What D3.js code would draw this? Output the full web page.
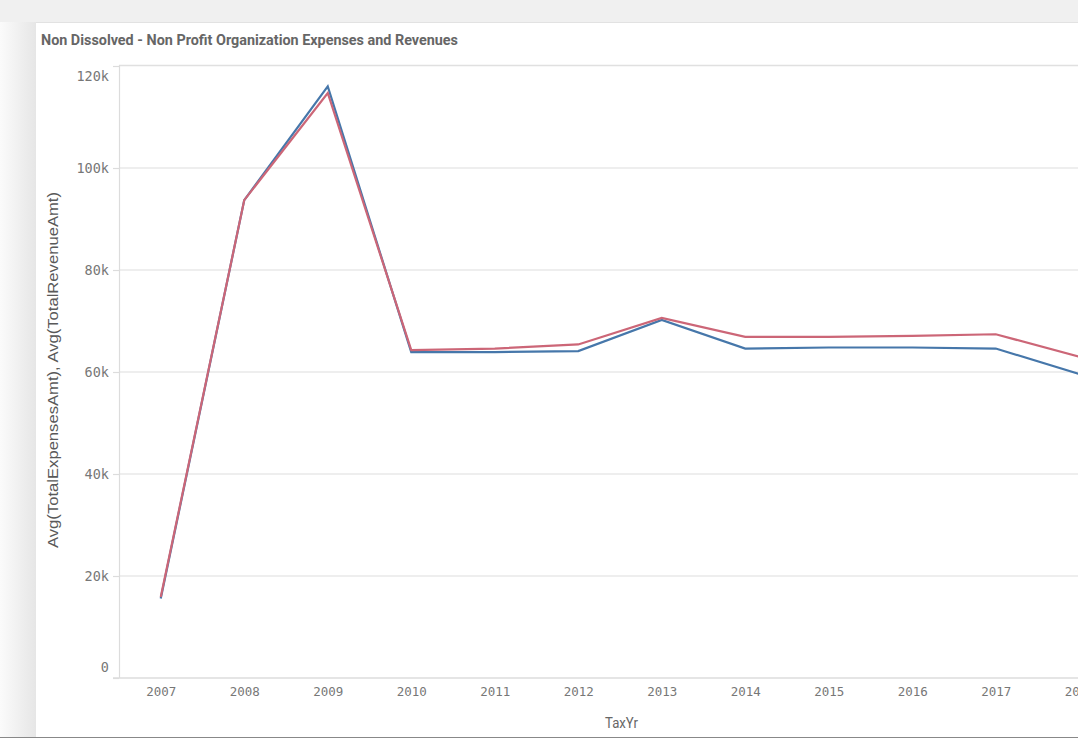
<!DOCTYPE html>
<html><head><meta charset="utf-8">
<script src="https://cdn.jsdelivr.net/npm/d3@7"></script>
<style>
html,body{margin:0;padding:0;background:#f2f2f2;overflow:hidden;}
svg{display:block;}
</style></head>
<body>
<svg id="chart" width="1078" height="738"></svg>
<script>
const years = [2007,2008,2009,2010,2011,2012,2013,2014,2015,2016,2017,2018];
const expenses = [15.6,93.7,116.0,63.9,63.9,64.1,70.2,64.6,64.8,64.8,64.6,59.6];
const revenues = [15.9,93.7,114.7,64.3,64.6,65.4,70.6,66.9,66.9,67.1,67.4,63.0];
const yTicks = [0,20,40,60,80,100,120];
const seriesNames = ["Avg(TotalExpensesAmt)","Avg(TotalRevenueAmt)"];
const seriesColors = ["#4677aa","#cc6677"];

const svg = d3.select("#chart");
const defs = svg.append("defs");
const g1 = defs.append("linearGradient").attr("id","lg").attr("x1","0").attr("x2","1");
g1.append("stop").attr("offset","0").attr("stop-color","#fbfbfb");
g1.append("stop").attr("offset","1").attr("stop-color","#e6e6e6");

// background
svg.append("rect").attr("x",0).attr("y",0).attr("width",1078).attr("height",738).attr("fill","#f0f0f0");
svg.append("rect").attr("x",0).attr("y",22).attr("width",36).attr("height",716).attr("fill","url(#lg)");
// panel
svg.append("rect").attr("x",35).attr("y",22).attr("width",1100).attr("height",715).attr("fill","#ffffff");
svg.append("line").attr("x1",35).attr("x2",1078).attr("y1",22.5).attr("y2",22.5).attr("stroke","#e2e2e2");
svg.append("line").attr("x1",35.5).attr("x2",35.5).attr("y1",22).attr("y2",738).attr("stroke","#e6e6e6");
svg.append("line").attr("x1",0).attr("x2",1078).attr("y1",737.5).attr("y2",737.5).attr("stroke","#888");

svg.append("text").attr("x",41).attr("y",45)
  .attr("font-family","'Liberation Sans Narrow','Arial Narrow','Roboto',sans-serif")
  .attr("font-weight","bold").attr("font-size",15.5).attr("fill","#666")
  .attr("textLength",417).attr("lengthAdjust","spacingAndGlyphs")
  .text("Non Dissolved - Non Profit Organization Expenses and Revenues");

const pLeft = 119, pTop = 66, pBottom = 678;
const step = 83.5;
const x = d3.scalePoint().domain(years).range([pLeft + step/2, pLeft + step/2 + step*(years.length-1)]);
const y = d3.scaleLinear().domain([0,120]).range([pBottom, pTop]);

// plot top border
svg.append("line").attr("x1",pLeft).attr("x2",1078).attr("y1",pTop-0.5).attr("y2",pTop-0.5).attr("stroke","#e0e0e0").attr("stroke-width",1.5);

const yAxis = svg.append("g").attr("transform",`translate(${pLeft},0)`)
  .call(d3.axisLeft(y).tickValues(yTicks).tickSize(6).tickFormat(d => d===0 ? "0" : d+"k"));
yAxis.select(".domain").remove();
yAxis.selectAll(".tick line").attr("stroke","#dcdcdc").attr("stroke-width",1.2);
yAxis.selectAll(".tick text").attr("x",-10)
  .attr("dy",d => d===120 ? "1.05em" : d===0 ? "-0.45em" : "0.35em")
  .attr("font-family","'DejaVu Sans Mono',monospace").attr("font-size",13.5).attr("fill","#777");

// grid lines
svg.append("g").selectAll("line").data(yTicks.filter(d=>d>0 && d<120)).join("line")
  .attr("x1",pLeft).attr("x2",1078).attr("y1",d=>y(d)).attr("y2",d=>y(d))
  .attr("stroke","#dedede").attr("stroke-width",1.2);
// axis lines
svg.append("line").attr("x1",pLeft+0.5).attr("x2",pLeft+0.5).attr("y1",pTop-1).attr("y2",pBottom).attr("stroke","#dcdcdc").attr("stroke-width",1.2);
svg.append("line").attr("x1",pLeft-6).attr("x2",1078).attr("y1",pBottom).attr("y2",pBottom).attr("stroke","#dcdcdc").attr("stroke-width",1.5);

const xAxis = svg.append("g").attr("transform",`translate(0,${pBottom})`)
  .call(d3.axisBottom(x).tickSize(0).tickPadding(9).tickFormat(d3.format("d")));
xAxis.select(".domain").remove();
xAxis.selectAll(".tick text").attr("font-family","'DejaVu Sans Mono',monospace").attr("font-size",12.5).attr("fill","#777");

svg.append("text").attr("x",58).attr("y",370).attr("transform","rotate(-90,58,370)")
  .attr("text-anchor","middle").attr("font-family","'Liberation Sans',Arial,sans-serif")
  .attr("font-size",14.5).attr("fill","#595959")
  .attr("textLength",356).attr("lengthAdjust","spacingAndGlyphs")
  .text(seriesNames.join(", "));

svg.append("text").attr("x",605).attr("y",728)
  .attr("font-family","'Liberation Sans Narrow','Arial Narrow','Roboto',sans-serif")
  .attr("font-size",15).attr("fill","#666")
  .attr("textLength",33).attr("lengthAdjust","spacingAndGlyphs").text("TaxYr");

const line = d3.line().x((d,i)=>x(years[i])).y(d=>y(d));
[expenses, revenues].forEach((s,i)=>{
  svg.append("path").datum(s).attr("d",line).attr("fill","none")
    .attr("stroke",seriesColors[i]).attr("stroke-width",2.2).attr("stroke-linejoin","miter");
});
</script>
</body></html>
